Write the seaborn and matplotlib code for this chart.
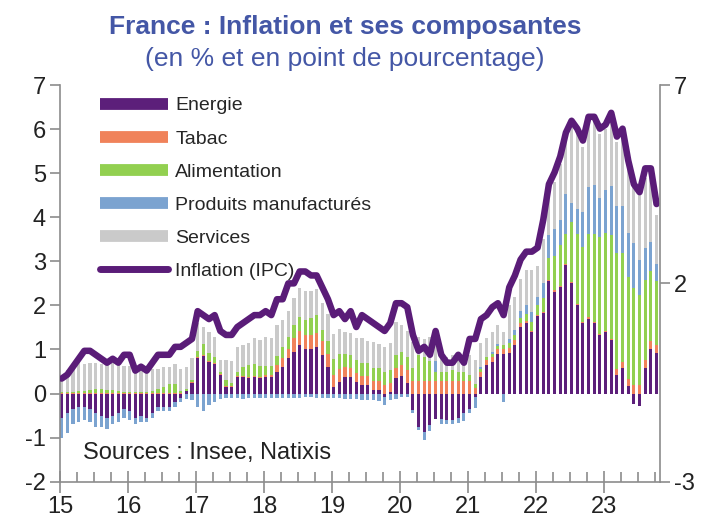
import numpy as np
import matplotlib
matplotlib.use('Agg')
import matplotlib.pyplot as plt
import seaborn as sns
from matplotlib.lines import Line2D

#monthly data, Jan 2015 -> Oct 2023
#contributions to inflation in percentage points (left axis)
year_labels = ['15', '16', '17', '18', '19', '20', '21', '22', '23']

energie = [-0.55, -0.45, -0.35, -0.3, -0.3, -0.35, -0.45, -0.5, -0.55, -0.5, -0.45, -0.35,
           -0.4, -0.55, -0.5, -0.55, -0.45, -0.3, -0.3, -0.3, -0.2, -0.1, 0.05, 0.25,
           0.8, 0.85, 0.72, 0.68, 0.42, 0.15, 0.15, 0.38, 0.38, 0.35, 0.38, 0.35,
           0.38, 0.38, 0.5, 0.6, 0.8, 0.95, 1.1, 1.0, 1.0, 1.06, 0.87, 0.6,
           0.15, 0.27, 0.38, 0.38, 0.27, 0.2, 0.2, 0.08, 0.08, -0.07, 0.04, 0.35,
           0.4, 0.25, -0.38, -0.75, -0.87, -0.72, -0.58, -0.58, -0.6, -0.6, -0.55, -0.45,
           -0.35, -0.07, 0.38, 0.65, 0.72, 0.9, 0.9, 0.92, 1.1, 1.5, 1.6, 1.4,
           1.75, 1.83, 2.55, 2.31, 2.42, 2.92, 2.5, 2.0, 1.6, 1.7, 1.6, 1.33,
           1.39, 1.21, 0.42, 0.57, 0.17, -0.24, -0.29, 0.57, 1.02, 0.92]

tabac = [0.01] * 12 + [0.01] * 12 + [0.02] * 12 + \
        [0.05, 0.05, 0.15, 0.2, 0.22, 0.3, 0.32, 0.32, 0.32, 0.32, 0.33, 0.3,
         0.28, 0.28, 0.22, 0.2, 0.2, 0.2, 0.2, 0.2, 0.2, 0.2, 0.2, 0.22,
         0.25, 0.28, 0.28, 0.28, 0.28, 0.28, 0.28, 0.28, 0.28, 0.28, 0.28, 0.28,
         0.28, 0.12, 0.12, 0.12, 0.12, 0.12, 0.12, 0.12, 0.12, 0.1, 0.05, 0.03] + \
        [0.03] * 12 + \
        [0.03, 0.03, 0.13, 0.15, 0.15, 0.19, 0.19, 0.19, 0.18, 0.18]

alimentation = [0.02, 0.03, 0.03, 0.05, 0.05, 0.08, 0.1, 0.1, 0.08, 0.06, 0.05, 0.03,
                0.02, 0.02, 0.03, 0.03, 0.05, 0.1, 0.15, 0.2, 0.2, 0.05, 0.05, 0.05,
                0.15, 0.25, 0.17, 0.12, 0.06, 0.13, 0.08, 0.08, 0.2, 0.28, 0.28, 0.25,
                0.2, 0.2, 0.2, 0.25, 0.26, 0.3, 0.32, 0.36, 0.4, 0.4, 0.25, 0.3,
                0.35, 0.35, 0.3, 0.3, 0.3, 0.3, 0.3, 0.3, 0.3, 0.3, 0.3, 0.3,
                0.3, 0.3, 0.3, 0.6, 0.55, 0.45, 0.2, 0.2, 0.2, 0.25, 0.2, 0.2,
                0.15, 0.1, 0.05, 0.05, 0.05, 0.05, 0.08, 0.1, 0.1, 0.12, 0.15, 0.2,
                0.22, 0.3, 0.49, 0.79, 0.91, 0.68, 1.36, 1.6, 1.7, 1.9, 2.0, 2.2,
                2.22, 2.36, 2.63, 2.46, 2.33, 2.2, 2.05, 1.82, 1.57, 1.45]

manufactures = [-0.45, -0.45, -0.35, -0.35, -0.3, -0.3, -0.3, -0.25, -0.25, -0.2, -0.2, -0.2,
                -0.2, -0.15, -0.15, -0.1, -0.1, -0.1, -0.1, -0.1, -0.1, -0.1, -0.12, -0.15,
                -0.3, -0.4, -0.25, -0.2, -0.12, -0.1, -0.1, -0.1, -0.12, -0.1, -0.1, -0.1,
                -0.1, -0.1, -0.1, -0.1, -0.1, -0.1, -0.1, -0.08, -0.08, -0.1, -0.1, -0.1,
                -0.1, -0.1, -0.12, -0.12, -0.12, -0.15, -0.15, -0.15, -0.18, -0.2, -0.15, -0.12,
                -0.08, -0.08, -0.05, -0.08, -0.18, -0.12, 0.25, -0.1, -0.08, -0.1, -0.12, -0.18,
                -0.1, -0.25, 0.05, 0.0, 0.05, 0.05, -0.2, 0.1, 0.12, 0.15, 0.2, 0.22,
                0.2, 0.35, 0.53, 0.6, 0.57, 0.9, 0.44, 0.55, 0.8, 1.06, 1.1, 0.87,
                0.98, 1.1, 1.08, 1.07, 0.99, 1.02, 0.79, 0.72, 0.68, 0.4]

services = [0.3, 0.5, 0.6, 0.65, 0.62, 0.6, 0.58, 0.57, 0.6, 0.62, 0.6, 0.58,
            0.6, 0.55, 0.55, 0.5, 0.5, 0.45, 0.45, 0.4, 0.45, 0.5, 0.5, 0.5,
            0.63, 0.4, 0.49, 0.47, 0.26, 0.46, 0.5, 0.58, 0.5, 0.49, 0.57, 0.59,
            0.66, 0.62, 0.7, 0.62, 0.6, 0.62, 0.65, 0.65, 0.6, 0.6, 0.6, 0.6,
            0.58, 0.57, 0.5, 0.5, 0.5, 0.55, 0.5, 0.6, 0.55, 0.55, 0.6, 0.75,
            0.6, 0.6, 0.6, 0.4, 0.4, 0.55, 0.35, 0.4, 0.35, 0.35, 0.4, 0.35,
            0.44, 0.55, 0.55, 0.43, 0.46, 0.43, 0.3, 0.76, 0.76, 0.73, 0.8, 0.95,
            0.7, 1.0, 0.9, 1.07, 1.27, 1.27, 1.77, 1.72, 1.47, 1.51, 1.47, 1.47,
            1.38, 1.6, 1.44, 1.65, 1.46, 1.33, 1.56, 1.6, 1.45, 1.1]

#headline CPI y/y in % (right axis)
inflation = [-0.4, -0.3, -0.1, 0.1, 0.3, 0.3, 0.2, 0.1, 0.0, 0.1, 0.0, 0.2,
             0.2, -0.2, -0.1, -0.2, 0.0, 0.2, 0.2, 0.2, 0.4, 0.4, 0.5, 0.6,
             1.3, 1.2, 1.1, 1.2, 0.8, 0.7, 0.7, 0.9, 1.0, 1.1, 1.2, 1.2,
             1.3, 1.2, 1.6, 1.6, 2.0, 2.0, 2.3, 2.3, 2.2, 2.2, 1.9, 1.6,
             1.2, 1.3, 1.1, 1.3, 0.9, 1.2, 1.1, 1.0, 0.9, 0.8, 1.0, 1.5,
             1.5, 1.4, 0.7, 0.3, 0.4, 0.2, 0.8, 0.2, 0.0, 0.0, 0.2, 0.0,
             0.6, 0.6, 1.1, 1.2, 1.4, 1.5, 1.2, 1.9, 2.2, 2.6, 2.8, 2.8,
             2.9, 3.6, 4.5, 4.8, 5.2, 5.8, 6.1, 5.9, 5.6, 6.2, 6.2, 5.9,
             6.0, 6.3, 5.7, 5.9, 5.1, 4.5, 4.3, 4.9, 4.9, 4.0]

labels = ['Energie', 'Tabac', 'Alimentation', 'Produits manufacturés', 'Services']
colors = ['#5C1F7A', '#F0825A', '#92D050', '#7BA3D0', '#CACACA']
line_color = '#5A1C78'
title_color = '#4457A6'
axis_grey = '#8C8C8C'

sns.set_style('white')
plt.rcParams['font.family'] = ['Liberation Sans', 'DejaVu Sans']
plt.rcParams['axes.unicode_minus'] = False

n = len(inflation)
x = np.arange(n) + 0.3

fig = plt.figure(figsize=(7.1, 5.24), dpi=100)
ax = fig.add_axes([0.0845, 0.0807, 0.845, 0.757])

#stacked bars, positives and negatives stacked separately (excel style)
pos_bottom = np.zeros(n)
neg_bottom = np.zeros(n)
for vals, col in zip([energie, tabac, alimentation, manufactures, services], colors):
    v = np.array(vals)
    pos = np.where(v > 0, v, 0)
    neg = np.where(v < 0, v, 0)
    ax.bar(x, pos, bottom=pos_bottom, width=0.55, color=col, linewidth=0)
    ax.bar(x, neg, bottom=neg_bottom, width=0.55, color=col, linewidth=0)
    pos_bottom += pos
    neg_bottom += neg

ax.set_xlim(0, 105.9)
ax.set_ylim(-2, 7)
ax.set_yticks(range(-2, 8))
ax.set_xticks(range(0, n, 12))
ax.set_xticklabels(year_labels)
ax.set_xticks([m for m in range(0, n, 3) if m % 12], minor=True)

#inflation line on the right axis
ax2 = ax.twinx()
sns.lineplot(x=x, y=inflation, ax=ax2, color=line_color, linewidth=4.7,
             solid_capstyle='round', solid_joinstyle='round')
ax2.set_ylim(-3, 7)
ax2.set_yticks([-3, 2, 7])

for a in (ax, ax2):
    a.spines['top'].set_visible(False)
    for s in a.spines.values():
        s.set_color(axis_grey)
        s.set_linewidth(1.2)
ax2.spines['left'].set_visible(False)
ax2.spines['bottom'].set_visible(False)
ax.spines['right'].set_visible(False)

ax.tick_params(axis='y', left=True, direction='out', length=7, width=1.2, color=axis_grey,
               labelsize=17, labelcolor='#222222', pad=3)
ax.tick_params(axis='x', which='major', bottom=True, direction='inout', length=16, width=1.2,
               color=axis_grey, labelsize=17, labelcolor='#222222', pad=2)
ax.tick_params(axis='x', which='minor', bottom=True, direction='in', length=7, width=1.2,
               color=axis_grey)
ax2.tick_params(axis='y', right=True, direction='out', length=7, width=1.2, color=axis_grey,
                labelsize=17, labelcolor='#222222', pad=3)
ax2.set_ylabel('')

#legend
handles = [Line2D([0], [0], color=c, linewidth=8.5, solid_capstyle='butt') for c in colors]
handles.append(Line2D([0], [0], color=line_color, linewidth=5, solid_capstyle='round'))
ax.legend(handles, labels + ['Inflation (IPC)'], loc='upper left', bbox_to_anchor=(0.053, 0.99),
          frameon=False, fontsize=14, handlelength=3.5, handletextpad=0.4, labelspacing=0.8,
          borderaxespad=0)

fig.text(0.486, 0.948, 'France : Inflation et ses composantes', ha='center', va='center',
         fontsize=19, fontweight='bold', color=title_color)
fig.text(0.486, 0.888, '(en % et en point de pourcentage)', ha='center', va='center',
         fontsize=19, color=title_color)
fig.text(83 / 710, 1 - 453 / 524, 'Sources : Insee, Natixis', ha='left', va='center',
         fontsize=17, color='#222222')

plt.savefig('out.png', dpi=100)
